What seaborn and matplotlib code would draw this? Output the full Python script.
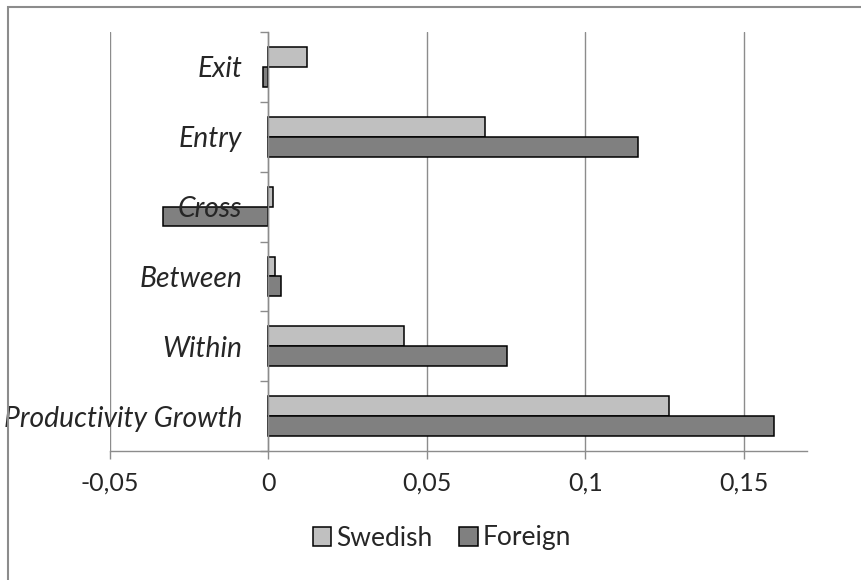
import matplotlib
matplotlib.use("Agg")
import matplotlib.pyplot as plt
import matplotlib.ticker as mticker
from matplotlib.patches import Rectangle
import seaborn as sns
import pandas as pd

categories = ["Exit", "Entry", "Cross", "Between", "Within", "Productivity Growth"]
swedish = [0.0122, 0.0685, 0.0015, 0.0022, 0.0427, 0.1265]
foreign = [-0.0018, 0.1167, -0.0333, 0.0040, 0.0754, 0.1596]
series = ["Swedish", "Foreign"]
xticks = [-0.05, 0, 0.05, 0.1, 0.15]

df = pd.DataFrame({
    "category": categories * 2,
    "value": swedish + foreign,
    "series": [series[0]] * len(categories) + [series[1]] * len(categories),
})

sns.set_style("white")
plt.rcParams["font.family"] = ["Lato", "DejaVu Sans"]

fig = plt.figure(figsize=(8.61, 5.80), dpi=100)
ax = fig.add_axes([110 / 861, 1 - 451 / 580, (807 - 110) / 861, (451 - 32) / 580])

sns.barplot(data=df, y="category", x="value", hue="series", order=categories,
            hue_order=series, palette=["#c0c0c0", "#808080"], orient="h",
            width=0.57, edgecolor="black", linewidth=1.1, saturation=1,
            legend=True, ax=ax)

ax.set_xlim(-0.05, 0.17)
ax.set_ylim(len(categories) - 0.5, -0.5)
ax.set_xlabel("")
ax.set_ylabel("")

# grid + x axis (grid behind bars)
gray = "#8c8c8c"
ax.xaxis.set_major_locator(mticker.FixedLocator(xticks))
ax.xaxis.set_major_formatter(mticker.FuncFormatter(lambda v, p: f"{v:g}".replace(".", ",")))
ax.grid(axis="x", color=gray, linewidth=1.0)
ax.grid(axis="y", visible=False)
ax.tick_params(axis="x", which="major", length=6, width=1.0, color=gray,
               direction="out", pad=9, labelsize=18, bottom=True)
ax.xaxis.set_zorder(0.5)

# y axis drawn at zero, labels on top of bars
for s in ["top", "right"]:
    ax.spines[s].set_visible(False)
ax.spines["left"].set_position(("data", 0))
for s in ["left", "bottom"]:
    ax.spines[s].set_color(gray)
    ax.spines[s].set_linewidth(1.0)
ax.spines["bottom"].set_zorder(0.6)
ax.yaxis.set_minor_locator(mticker.FixedLocator([i - 0.5 for i in range(len(categories) + 1)]))
ax.tick_params(axis="y", which="major", length=0, pad=19, labelsize=20.3)
ax.tick_params(axis="y", which="minor", length=6, width=1.0, color=gray, direction="out", left=True)
ax.yaxis.set_zorder(3)
for lbl in ax.get_yticklabels():
    lbl.set_fontstyle("italic")

# legend below
handles, labels = ax.get_legend_handles_labels()
ax.legend(handles, labels, loc="center", bbox_to_anchor=(442 / 861, 1 - 538 / 580),
          bbox_transform=fig.transFigure, ncol=2, frameon=False, fontsize=19,
          handlelength=0.7, handleheight=0.7, handletextpad=0.2, columnspacing=1.0)

# outer chart border
fig.patches.append(Rectangle((8 / 861, -0.05), 1.1, 1 - 7 / 580 + 0.05, transform=fig.transFigure,
                             fill=False, edgecolor=gray, linewidth=1.5, clip_on=False))

fig.savefig("out.png", dpi=100)
